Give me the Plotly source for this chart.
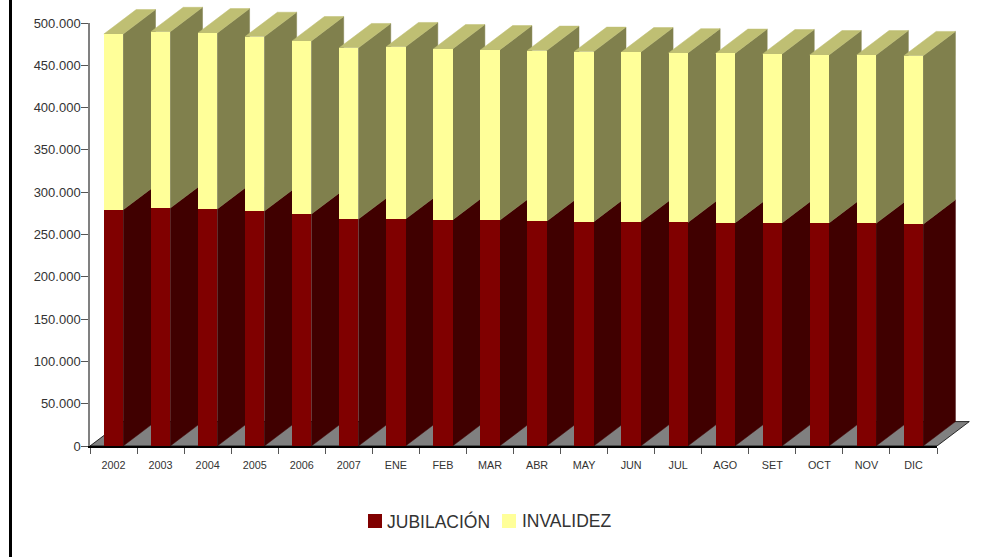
import plotly.graph_objects as go

categories = ["2002", "2003", "2004", "2005", "2006", "2007", "ENE", "FEB", "MAR",
              "ABR", "MAY", "JUN", "JUL", "AGO", "SET", "OCT", "NOV", "DIC"]
jubilacion = [279200, 281200, 280200, 277700, 274200, 268200, 268200, 267200, 266700,
              265700, 265200, 264700, 264200, 263700, 263700, 263700, 263200, 262200]
invalidez = [207800, 208500, 208000, 206200, 204600, 202400, 203600, 202100, 201400,
             201800, 201100, 201000, 200300, 200300, 199700, 198500, 199000, 199000]
series_names = ["JUBILACIÓN", "INVALIDEZ"]

W, H = 993, 557
# outer plot box (holds the extruded faces); the axes sit inside it
L, R, T, B = 90, 10, 3, 111
AXIS_W, AXIS_H = 847, 423
box_w, box_h = W - L - R, H - T - B
n = len(categories)
Y_MAX = 500000
x_ext = n * box_w / AXIS_W
y_ext = Y_MAX * box_h / AXIS_H
DEPTH_PX_X, DEPTH_PX_Y = 32.3, 24.4
dx = DEPTH_PX_X / (AXIS_W / n)
dy = DEPTH_PX_Y / AXIS_H * Y_MAX
BAR_W = 0.41

RED, RED_SIDE = "#800000", "#400000"
YEL, YEL_SIDE, YEL_TOP = "#FFFF99", "#80804D", "#BFBF73"
TEXT = "#333333"
FONT = "Liberation Sans"


def px(x):
    return (x - L) / box_w


def py(y):
    return 1 - (y - T) / box_h


fig = go.Figure()


def poly(xs, ys, color, line=None):
    fig.add_trace(go.Scatter(
        x=xs, y=ys, mode="lines", fill="toself", fillcolor=color,
        line=dict(color=line or color, width=0.5 if line is None else 0.8),
        showlegend=False, hoverinfo="skip"))


poly([0, n, n + dx, dx, 0], [0, 0, dy, dy, 0], "#808080", "#000000")

for i in range(n):
    x1 = i + 0.5 + BAR_W / 2
    x0 = i + 0.5 - BAR_W / 2
    r, t = jubilacion[i], jubilacion[i] + invalidez[i]
    poly([x1, x1 + dx, x1 + dx, x1, x1], [0, dy, r + dy, r, 0], RED_SIDE)
    poly([x1, x1 + dx, x1 + dx, x1, x1], [r, r + dy, t + dy, t, r], YEL_SIDE)
    poly([x0, x1, x1 + dx, x0 + dx, x0], [t, t, t + dy, t + dy, t], YEL_TOP)

centers = [i + 0.5 for i in range(n)]
fig.add_trace(go.Bar(x=centers, y=jubilacion, name=series_names[0], width=BAR_W, showlegend=False,
                     marker=dict(color=RED, line_width=0), xaxis="x2", yaxis="y2"))
fig.add_trace(go.Bar(x=centers, y=invalidez, name=series_names[1], width=BAR_W, showlegend=False,
                     marker=dict(color=YEL, line_width=0), xaxis="x2", yaxis="y2"))

shapes = [dict(type="line", xref="paper", yref="paper", layer="above",
               x0=px(10.5), x1=px(10.5), y0=py(H), y1=py(0),
               line=dict(color="#000000", width=3))]
annotations = []
for name, color, sx, tx in zip(series_names, [RED, YEL], [368, 502], [385, 520]):
    shapes.append(dict(type="rect", xref="paper", yref="paper", layer="above",
                       x0=px(sx), x1=px(sx + 14), y0=py(528), y1=py(514),
                       fillcolor=color, line_width=0))
    annotations.append(dict(text=name, xref="paper", yref="paper", x=px(tx), y=py(521),
                            xanchor="left", yanchor="middle", showarrow=False,
                            font=dict(size=17.5, color=TEXT, family=FONT)))

fig.update_layout(
    width=W, height=H, margin=dict(l=L, r=R, t=T, b=B, autoexpand=False),
    paper_bgcolor="white", plot_bgcolor="rgba(0,0,0,0)",
    barmode="stack", separators=",.", showlegend=False,
    font=dict(family=FONT, color=TEXT),
    xaxis=dict(domain=[0, 1], range=[0, x_ext], visible=False, anchor="y"),
    yaxis=dict(domain=[0, 1], range=[0, y_ext], visible=False, anchor="x"),
    xaxis2=dict(domain=[0, AXIS_W / box_w], range=[0, n], anchor="y2",
                tickvals=centers, ticktext=categories,
                ticks="outside", ticklen=8, tickcolor="rgba(0,0,0,0)",
                tickfont=dict(size=10.8, color=TEXT), showgrid=False, zeroline=False,
                showline=True, linecolor="#000000", linewidth=1.5,
                minor=dict(dtick=1, tick0=0, ticks="outside", ticklen=6,
                           tickcolor="#555555", tickwidth=1, showgrid=False)),
    yaxis2=dict(domain=[0, AXIS_H / box_h], range=[0, Y_MAX], anchor="x2",
                dtick=50000, tickformat=",d", ticks="outside",
                ticklen=7, tickcolor="#555555", tickwidth=1, ticklabelstandoff=-2,
                tickfont=dict(size=13, color=TEXT), showgrid=False, zeroline=False,
                showline=True, linecolor="#808080", linewidth=1.5),
    shapes=shapes,
    annotations=annotations,
)

fig.write_html("out.html", config=dict(displayModeBar=False),
               post_script="document.body.style.margin='0';document.documentElement.style.overflow='hidden';")
